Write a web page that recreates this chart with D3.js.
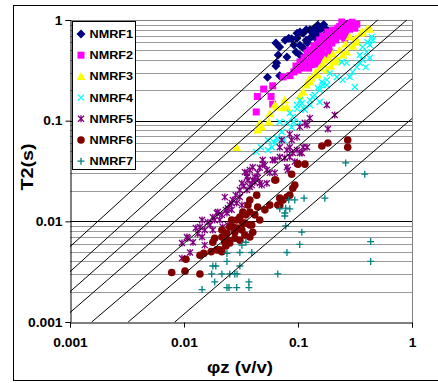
<!DOCTYPE html>
<html>
<head>
<meta charset="utf-8">
<script src="https://cdn.jsdelivr.net/npm/d3@7"></script>
<style>
  body { margin: 0; background: #fff; }
  text { font-family: Arial, 'Liberation Sans', sans-serif; font-weight: bold; fill: #000; }
</style>
</head>
<body>
<script>
// values: [phi z (v/v), T2 (s)]
const nmrf1 = [[0.054,0.27],[0.064,0.35],[0.065,0.375],[0.064,0.59],[0.069,0.54],[0.067,0.45],[0.069,0.28],
  [0.080,0.43],[0.083,0.66],[0.088,0.65],[0.096,0.48],[0.098,0.66],[0.098,0.74],[0.104,0.76],[0.104,0.56],
  [0.104,0.45],[0.111,0.74],[0.111,0.53],[0.118,0.63],[0.121,0.59],[0.127,0.80],[0.127,0.66],[0.135,0.69],
  [0.140,0.83],[0.147,0.74],[0.149,0.63],[0.155,0.80],[0.162,0.83],[0.162,0.68],[0.172,0.83],[0.179,0.74],
  [0.183,0.78],[0.077,0.63],[0.092,0.565],[0.118,0.80],[0.132,0.76],[0.150,0.88],[0.168,0.90],[0.145,0.70]];
const nmrf2 = [[0.085,0.28],[0.092,0.305],[0.096,0.349],[0.100,0.319],[0.104,0.383],[0.108,0.333],[0.113,0.42],
  [0.118,0.366],[0.124,0.449],[0.124,0.333],[0.127,0.504],[0.130,0.401],[0.135,0.44],[0.138,0.55],[0.140,0.366],
  [0.146,0.48],[0.149,0.578],[0.152,0.42],[0.155,0.633],[0.162,0.504],[0.165,0.69],[0.168,0.565],[0.172,0.449],
  [0.179,0.633],[0.183,0.76],[0.186,0.53],[0.194,0.68],[0.198,0.59],[0.202,0.796],[0.210,0.727],[0.214,0.633],
  [0.223,0.83],[0.228,0.69],[0.237,0.776],[0.242,0.955],[0.252,0.85],[0.262,0.74],[0.273,0.87],[0.284,0.81],
  [0.295,0.89],[0.315,0.83],[0.328,0.91],[0.257,0.66],[0.190,0.48],[0.149,0.383],
  [0.050,0.206],[0.060,0.222],[0.044,0.174],[0.058,0.174],[0.060,0.146],[0.043,0.122],[0.074,0.272],
  [0.115,0.38],[0.120,0.47],[0.132,0.36],[0.142,0.46],[0.158,0.55],[0.175,0.60],[0.182,0.68],[0.205,0.70],
  [0.218,0.76],[0.232,0.86],[0.246,0.80],[0.268,0.92],[0.298,0.95],[0.310,0.90],[0.160,0.44],[0.137,0.50]];
const nmrf3 = [[0.029,0.054],[0.0443,0.0808],[0.0462,0.0948],[0.048,0.0867],[0.0555,0.097],[0.0566,0.117],
  [0.0626,0.143],[0.065,0.137],[0.074,0.134],[0.0766,0.160],[0.080,0.134],[0.111,0.193],[0.118,0.226],
  [0.124,0.254],[0.132,0.266],[0.143,0.305],[0.149,0.284],[0.155,0.333],[0.165,0.366],[0.172,0.401],
  [0.179,0.319],[0.186,0.42],[0.194,0.349],[0.202,0.46],[0.210,0.383],[0.223,0.401],[0.232,0.504],
  [0.247,0.449],[0.262,0.578],[0.267,0.48],[0.284,0.68],[0.302,0.55],[0.321,0.66],[0.328,0.60],
  [0.355,0.74],[0.369,0.76],[0.408,0.83],[0.426,0.81],[0.127,0.242],[0.104,0.176]];
const nmrf4 = [[0.043,0.049],[0.0472,0.0545],[0.0544,0.0511],[0.0544,0.0643],[0.059,0.0545],[0.0614,0.0615],
  [0.065,0.0673],[0.067,0.0643],[0.069,0.097],[0.072,0.0771],[0.075,0.0643],[0.080,0.095],[0.085,0.119],
  [0.088,0.086],[0.090,0.109],[0.092,0.097],[0.098,0.143],[0.098,0.131],[0.104,0.160],[0.104,0.095],
  [0.108,0.149],[0.111,0.134],[0.115,0.128],[0.127,0.160],[0.127,0.143],[0.135,0.172],[0.140,0.180],
  [0.149,0.211],[0.155,0.202],[0.155,0.153],[0.162,0.242],[0.165,0.226],[0.179,0.254],[0.179,0.226],
  [0.190,0.296],[0.219,0.272],[0.242,0.383],[0.247,0.254],[0.267,0.375],[0.284,0.272],[0.302,0.305],
  [0.315,0.216],[0.328,0.34],[0.348,0.375],[0.348,0.449],[0.369,0.54],[0.369,0.401],[0.393,0.34],
  [0.400,0.48],[0.408,0.60],[0.426,0.565],[0.426,0.42],[0.443,0.68],[0.452,0.633]];
const nmrf5 = [[0.0096,0.0061],[0.0096,0.0043],[0.0106,0.0070],[0.0108,0.0068],[0.0113,0.0049],[0.0120,0.0062],
  [0.0127,0.0086],[0.0132,0.0075],[0.0138,0.0088],[0.0144,0.0103],[0.0144,0.0070],[0.0152,0.0082],
  [0.0152,0.0058],[0.0169,0.0092],[0.0179,0.0110],[0.0179,0.0082],[0.0194,0.0121],[0.0198,0.0124],
  [0.0206,0.0103],[0.0219,0.0088],[0.0228,0.0174],[0.0238,0.0121],[0.0243,0.0135],[0.0243,0.0092],
  [0.0262,0.0152],[0.0262,0.0130],[0.029,0.0152],[0.0309,0.0174],[0.0322,0.0239],[0.0322,0.0145],
  [0.0357,0.0303],[0.0357,0.0276],[0.0357,0.0205],[0.0364,0.0257],[0.0378,0.0219],[0.0393,0.0229],
  [0.0401,0.0345],[0.0401,0.0257],[0.0418,0.0276],[0.0443,0.0303],[0.0462,0.0340],[0.0462,0.0239],
  [0.048,0.0229],[0.049,0.0406],[0.049,0.0372],[0.0512,0.0362],[0.0533,0.0323],[0.0533,0.0239],
  [0.0566,0.0303],[0.060,0.0406],[0.0626,0.0406],[0.0626,0.0303],[0.0692,0.0545],[0.0692,0.0435],
  [0.072,0.0643],[0.0766,0.0425],[0.080,0.0511],[0.080,0.0345],[0.0815,0.0323],[0.0847,0.0735],
  [0.0847,0.0545],[0.0847,0.0435],[0.088,0.0643],[0.090,0.0478],[0.0937,0.039],[0.098,0.0686],
  [0.098,0.0511],[0.098,0.038],[0.1036,0.0867],[0.1036,0.0478],[0.108,0.0478],[0.111,0.0545],
  [0.115,0.095],[0.120,0.0906],[0.120,0.0545],[0.127,0.106],[0.179,0.143],[0.183,0.0826],[0.210,0.114],
  [0.0342,0.0308],[0.0378,0.0323],[0.0418,0.0245],[0.0443,0.027],[0.0335,0.0224],[0.0309,0.0205],
  [0.0284,0.0182],[0.0268,0.0163],[0.0252,0.0145],[0.0233,0.0130],[0.0215,0.0116],[0.0186,0.0103],
  [0.0162,0.0098]];
const nmrf6 = [[0.0078,0.0031],[0.0102,0.0032],[0.0138,0.0030],[0.0104,0.0042],[0.0138,0.0046],[0.0149,0.0048],
  [0.0173,0.0050],[0.0194,0.0052],[0.0179,0.0062],[0.0186,0.0068],[0.0206,0.0052],[0.0215,0.0050],
  [0.0215,0.0082],[0.0215,0.0070],[0.0238,0.0076],[0.0243,0.0065],[0.0252,0.0088],[0.0252,0.0061],
  [0.0268,0.0088],[0.0279,0.0068],[0.029,0.0103],[0.0309,0.0110],[0.0322,0.0082],[0.0328,0.0124],
  [0.0328,0.0096],[0.0342,0.0096],[0.0378,0.0163],[0.0378,0.0124],[0.0378,0.0092],[0.0378,0.0070],
  [0.0393,0.0092],[0.0434,0.0182],[0.0443,0.0139],[0.0626,0.0257],[0.0638,0.0257],[0.0665,0.0145],
  [0.0692,0.0170],[0.0692,0.0145],[0.074,0.0163],[0.080,0.0174],[0.0847,0.0182],[0.088,0.0294],
  [0.090,0.0213],[0.0937,0.0229],[0.100,0.037],[0.115,0.037],[0.162,0.056],[0.183,0.060],[0.273,0.0643],
  [0.273,0.0545],[0.0262,0.0103],[0.0292,0.0086],[0.0349,0.0116],[0.0233,0.0057],[0.0418,0.0116],
  [0.0364,0.0145],[0.0462,0.0103],[0.0279,0.0078],[0.0228,0.0062],[0.0309,0.0065],[0.0342,0.0073],
  [0.0401,0.0078],[0.0512,0.0130],[0.0566,0.0145]];
const nmrf7 = [[0.0144,0.0021],[0.0175,0.0030],[0.0179,0.0036],[0.0186,0.0025],[0.019,0.0036],[0.0215,0.0030],
  [0.0238,0.0048],[0.0238,0.0040],[0.0238,0.0022],[0.0248,0.0022],[0.0252,0.0030],[0.0279,0.0030],
  [0.029,0.0022],[0.0292,0.0030],[0.0309,0.0036],[0.0309,0.0049],[0.0322,0.0058],[0.0349,0.0062],
  [0.0371,0.0025],[0.0371,0.0022],[0.0393,0.0049],[0.0665,0.0030],[0.0692,0.0133],[0.0766,0.0121],
  [0.0766,0.0113],[0.078,0.0090],[0.078,0.0135],[0.080,0.0049],[0.083,0.0163],[0.0847,0.0133],
  [0.0937,0.0163],[0.1036,0.0059],[0.108,0.0078],[0.113,0.0170],[0.172,0.0170],[0.262,0.038],
  [0.385,0.0294],[0.434,0.0063],[0.434,0.0040]];

const seriesNames = ['NMRF1', 'NMRF2', 'NMRF3', 'NMRF4', 'NMRF5', 'NMRF6', 'NMRF7'];
const seriesData = [nmrf1, nmrf2, nmrf3, nmrf4, nmrf5, nmrf6, nmrf7];

// straight guide lines, end points as read at the plot edges
const guideLines = [
  [[0.001, 0.0056], [0.153, 1]],
  [[0.001, 0.00316], [0.273, 1]],
  [[0.001, 0.002], [0.5, 1]],
  [[0.001, 0.00124], [0.9, 1]],
  [[0.00155, 0.001], [1, 0.51]],
  [[0.00324, 0.001], [1, 0.26]],
  [[0.0083, 0.001], [1, 0.105]]
];

const tickValues = [0.001, 0.01, 0.1, 1];
const tickLabels = ['0.001', '0.01', '0.1', '1'];

// marker look per series (Excel style)
const markers = [
  { d: 'M0,-4.5L4.5,0L0,4.5L-4.5,0Z', fill: '#000080', stroke: 'none' },
  { d: 'M-3.5,-3.5h7v7h-7Z', fill: '#ff00ff', stroke: 'none' },
  { d: 'M0,-4.5L4.5,3.5L-4.5,3.5Z', fill: '#ffff00', stroke: 'none' },
  { d: 'M-3,-3L3,3M3,-3L-3,3', fill: 'none', stroke: '#00ffff' },
  { d: 'M-3,-3L3,3M3,-3L-3,3M0,-3.5V3.5', fill: 'none', stroke: '#800080' },
  { d: 'M-3.8,0A3.8,3.8 0 1,0 3.8,0A3.8,3.8 0 1,0 -3.8,0Z', fill: '#800000', stroke: 'none' },
  { d: 'M-3.5,0H3.5M0,-3.5V3.5', fill: 'none', stroke: '#008080' }
];

const width = 438, height = 383;
const plot = { left: 70, right: 412, top: 20, bottom: 322 };

const svg = d3.select('body').append('svg')
  .attr('width', width)
  .attr('height', height);

const x = d3.scaleLog().domain([0.001, 1]).range([plot.left, plot.right]);
const y = d3.scaleLog().domain([0.001, 1]).range([plot.bottom, plot.top]);

// the source image is a bit wider than tall, so text gets widened too
function widen(sel, f) {
  sel.each(function() {
    const w = this.getComputedTextLength();
    d3.select(this).attr('textLength', w * f).attr('lengthAdjust', 'spacingAndGlyphs');
  });
}

// outer frame
svg.append('rect')
  .attr('x', 13.5).attr('y', 5.5)
  .attr('width', 440).attr('height', 375)
  .attr('fill', 'none').attr('stroke', '#000');

// horizontal gridlines: grey minor, black major
const isMajor = v => Math.abs(Math.log10(v) - Math.round(Math.log10(v))) < 1e-6;
svg.append('g').selectAll('line')
  .data(y.ticks().filter(v => v > 0.0011 && v < 0.99))
  .enter().append('line')
    .attr('x1', plot.left).attr('x2', plot.right)
    .attr('y1', d => Math.round(y(d)) + 0.5).attr('y2', d => Math.round(y(d)) + 0.5)
    .attr('stroke', d => isMajor(d) ? '#000' : '#999');

// plot border top/right
svg.append('path')
  .attr('d', `M${plot.left},${plot.top + 0.5}H${plot.right + 0.5}V${plot.bottom}`)
  .attr('fill', 'none').attr('stroke', '#808080');

// series markers
seriesData.forEach((data, i) => {
  svg.append('g').selectAll('path')
    .data(data)
    .enter().append('path')
      .attr('transform', d => `translate(${x(d[0])},${y(d[1])})`)
      .attr('d', markers[i].d)
      .attr('fill', markers[i].fill)
      .attr('stroke', markers[i].stroke)
      .attr('stroke-width', 1.3);
});

// guide lines
const line = d3.line().x(d => x(d[0])).y(d => y(d[1]));
svg.append('g').selectAll('path')
  .data(guideLines)
  .enter().append('path')
    .attr('d', line)
    .attr('fill', 'none')
    .attr('stroke', '#000')
    .attr('stroke-width', 1);

// axes
const yAxis = svg.append('g')
  .attr('transform', `translate(${plot.left + 0.5},0)`)
  .call(d3.axisLeft(y).tickValues(tickValues).tickSize(5).tickPadding(3)
    .tickFormat((d, i) => tickLabels[i]));
const xAxis = svg.append('g')
  .attr('transform', `translate(0,${plot.bottom + 0.5})`)
  .call(d3.axisBottom(x).tickValues(tickValues).tickSize(5).tickPadding(11)
    .tickFormat((d, i) => tickLabels[i]));

[yAxis, xAxis].forEach(ax => {
  ax.select('.domain').attr('stroke', '#000');
  ax.selectAll('.tick line').attr('stroke', '#000');
  ax.selectAll('text')
    .style('font-size', '12px')
    .style('font-family', "Arial, 'Liberation Sans', sans-serif")
    .style('font-weight', 'bold');
  widen(ax.selectAll('text'), 1.15);
});
yAxis.selectAll('text').attr('dy', '0.36em');

// axis titles
svg.append('text')
  .attr('transform', 'translate(33,167) rotate(-90)')
  .attr('text-anchor', 'middle')
  .style('font-size', '16px')
  .attr('textLength', 47).attr('lengthAdjust', 'spacingAndGlyphs')
  .text('T2(s)');
svg.append('text')
  .attr('x', 240).attr('y', 373)
  .attr('text-anchor', 'middle')
  .style('font-size', '16px')
  .attr('textLength', 66).attr('lengthAdjust', 'spacingAndGlyphs')
  .text('φz (v/v)');

// legend
const legend = svg.append('g');
legend.append('rect')
  .attr('x', 72.5).attr('y', 21.5)
  .attr('width', 63).attr('height', 148)
  .attr('fill', '#fff').attr('stroke', '#000');
const items = legend.selectAll('g.item')
  .data(seriesNames)
  .enter().append('g')
    .attr('class', 'item')
    .attr('transform', (d, i) => `translate(81,${34 + i * 21.2})`);
items.append('path')
  .attr('d', (d, i) => markers[i].d)
  .attr('fill', (d, i) => markers[i].fill)
  .attr('stroke', (d, i) => markers[i].stroke)
  .attr('stroke-width', 1.3);
const labels = items.append('text')
  .attr('x', 8.5).attr('y', 4)
  .style('font-size', '11px')
  .text(d => d);
widen(labels, 1.15);
</script>
</body>
</html>
